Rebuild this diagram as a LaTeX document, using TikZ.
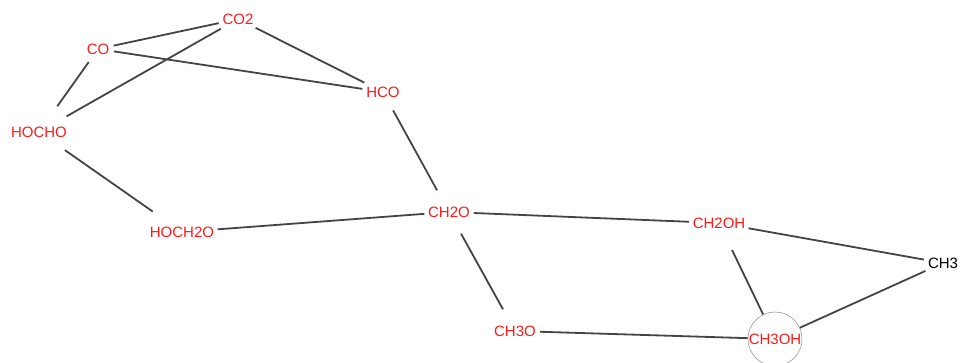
\documentclass[tikz,border=0pt]{standalone}
\usepackage{fontspec}
\setmainfont{Liberation Sans}
\definecolor{edgegray}{HTML}{444444}
\definecolor{labred}{HTML}{FF1A1A}
\begin{document}
\begin{tikzpicture}[x=1pt,y=-1pt,
  sp/.style={circle,inner sep=2.5pt,text=labred,font=\fontsize{15}{18}\selectfont},
  spk/.style={sp,text=black},
  sel/.style={sp,draw=gray!80,line width=0.6pt,minimum size=54pt,inner sep=0pt},
  bond/.style={draw=edgegray,line width=1.8pt}]
\useasboundingbox (0,0) rectangle (961,363);
\node[sp] (co2) at (238,19) {CO2};
\node[sp] (co) at (98,49) {CO};
\node[sp] (hco) at (383,92) {HCO};
\node[sp] (hocho) at (39,132) {HOCHO};
\node[sp] (hoch2o) at (182,232) {HOCH2O};
\node[sp] (ch2o) at (449,212) {CH2O};
\node[sp] (ch2oh) at (719,223) {CH2OH};
\node[spk] (ch3) at (943,263) {CH3};
\node[sp] (ch3o) at (515,331) {CH3O};
\node[sel] (ch3oh) at (775,339) {CH3OH};
\path[bond] (co) -- (co2);
\path[bond] (co) -- (hco);
\path[bond] (co) -- (hocho);
\path[bond] (co2) -- (hocho);
\path[bond] (co2) -- (hco);
\path[bond] (hco) -- (ch2o);
\path[bond] (hocho) -- (hoch2o);
\path[bond] (hoch2o) -- (ch2o);
\path[bond] (ch2o) -- (ch2oh);
\path[bond] (ch2o) -- (ch3o);
\path[bond] (ch2oh) -- (ch3);
\path[bond] (ch2oh) -- (ch3oh);
\path[bond] (ch3) -- (ch3oh);
\path[bond] (ch3o) -- (ch3oh);
\end{tikzpicture}
\end{document}
